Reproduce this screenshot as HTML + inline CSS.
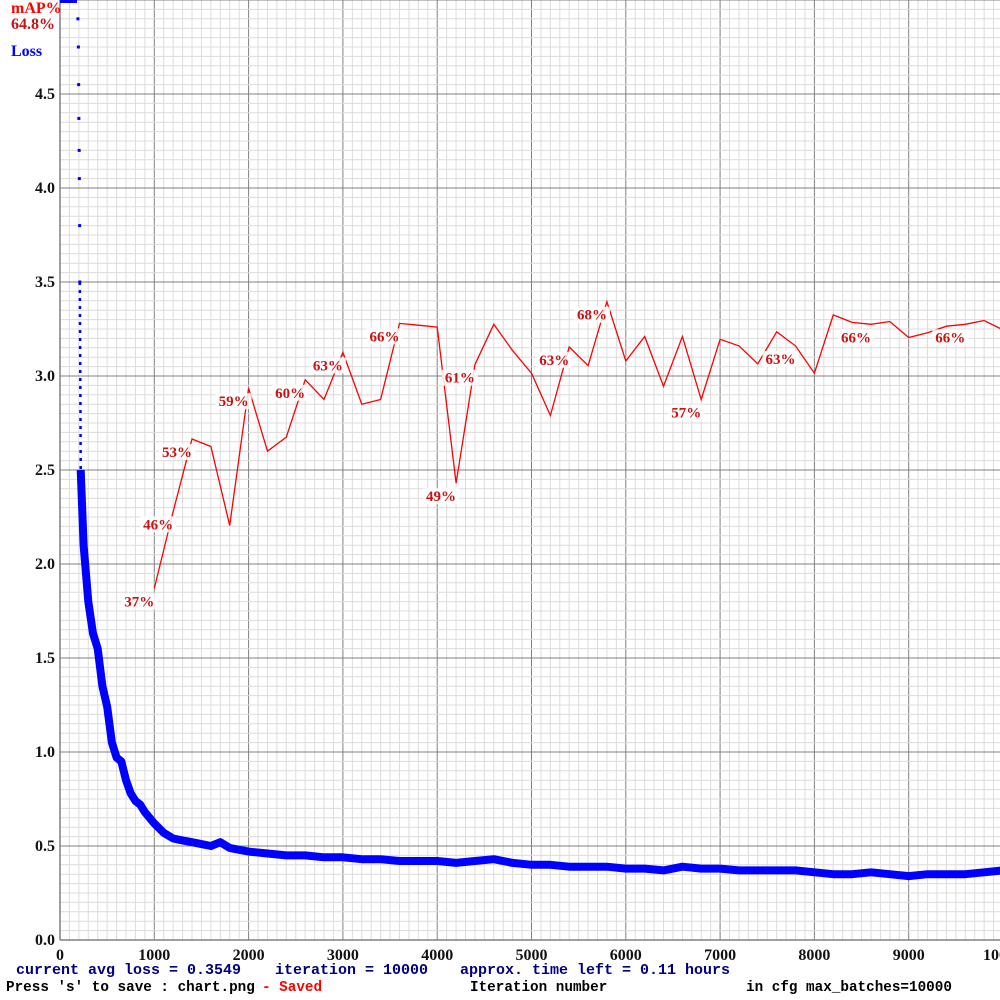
<!DOCTYPE html>
<html><head><meta charset="utf-8">
<style>
html,body{margin:0;padding:0;background:#fff;}
svg{display:block;}
</style></head>
<body>
<svg id="chart" width="1000" height="1000" xmlns="http://www.w3.org/2000/svg"></svg>
<script>
const xTickLabels = ["0","1000","2000","3000","4000","5000","6000","7000","8000","9000","10000"];
const yTickLabels = ["0.0","0.5","1.0","1.5","2.0","2.5","3.0","3.5","4.0","4.5"];
const mapIters = [1000,1200,1400,1600,1800,2000,2200,2400,2600,2800,3000,3200,3400,3600,3800,4000,4200,4400,4600,4800,5000,5200,5400,5600,5800,6000,6200,6400,6600,6800,7000,7200,7400,7600,7800,8000,8200,8400,8600,8800,9000,9200,9400,9600,9800,10000];
const mapVals = [0.374,0.456,0.533,0.525,0.441,0.587,0.520,0.535,0.596,0.575,0.625,0.570,0.575,0.656,0.654,0.652,0.486,0.612,0.655,0.627,0.603,0.558,0.631,0.611,0.679,0.616,0.642,0.589,0.642,0.575,0.639,0.632,0.613,0.647,0.632,0.603,0.665,0.657,0.655,0.658,0.641,0.646,0.653,0.655,0.659,0.649];
const mapLabelIdx = [0,1,2,5,8,10,13,16,17,22,24,29,34,38,43];
const lossIters = [0,100,180,190,195,198,200,203,205,208,210,220,250,300,350,400,450,500,550,600,650,700,750,800,850,900,950,1000,1100,1200,1300,1400,1500,1600,1700,1800,1900,2000,2200,2400,2600,2800,3000,3200,3400,3600,3800,4000,4200,4400,4600,4800,5000,5200,5400,5600,5800,6000,6200,6400,6600,6800,7000,7200,7400,7600,7800,8000,8200,8400,8600,8800,9000,9200,9400,9600,9800,10000];
const lossVals = [8,7,6,4.9,4.75,4.55,4.37,4.2,4.05,3.8,3.5,2.5,2.1,1.8,1.63,1.55,1.35,1.24,1.05,0.97,0.95,0.85,0.78,0.74,0.72,0.68,0.65,0.62,0.57,0.54,0.53,0.52,0.51,0.50,0.52,0.49,0.48,0.47,0.46,0.45,0.45,0.44,0.44,0.43,0.43,0.42,0.42,0.42,0.41,0.42,0.43,0.41,0.40,0.40,0.39,0.39,0.39,0.38,0.38,0.37,0.39,0.38,0.38,0.37,0.37,0.37,0.37,0.36,0.35,0.35,0.36,0.35,0.34,0.35,0.35,0.35,0.36,0.37];

const NS="http://www.w3.org/2000/svg";
const svg=document.getElementById('chart');
const X0=60, XW=943, Y0=940, YS=188, PH=940;
const xs=i=>X0+i/10000*XW;
const ys=l=>Y0-l*YS;
const ym=m=>Y0-m*PH;
function mk(tag,attrs,parent){const e=document.createElementNS(NS,tag);for(const k in attrs)e.setAttribute(k,attrs[k]);(parent||svg).appendChild(e);return e;}

const grid=mk('g',{});


for(let i=0;i<=100;i++){const x=xs(i*100);mk('line',{x1:x,y1:0,x2:x,y2:Y0,stroke:i%10?'#dcdcdc':'#808080','stroke-width':1},grid);}
for(let j=0;j<=100;j++){const y=Y0-j*0.05*YS;if(y<0)break;mk('line',{x1:X0,y1:y,x2:1000,y2:y,stroke:j%10?'#dcdcdc':'#808080','stroke-width':1},grid);}
const ax=mk('line',{x1:X0,y1:0,x2:X0,y2:Y0,stroke:'#808080','stroke-width':1.5});

const bx=mk('line',{x1:X0,y1:Y0,x2:1000,y2:Y0,stroke:'#808080','stroke-width':1.5});


yTickLabels.forEach((t,k)=>{const e=mk('text',{x:55,y:Y0-k*0.5*YS+5,'text-anchor':'end','font-family':'Liberation Serif, serif','font-weight':'bold','font-size':16,fill:'#111'});e.textContent=t;
});
xTickLabels.forEach((t,k)=>{const e=mk('text',{x:xs(k*1000),y:960,'text-anchor':'middle','font-family':'Liberation Serif, serif','font-weight':'bold','font-size':16,fill:'#111'});e.textContent=t;
});

// loss series
const lg=mk('g',{});

const bandStart=lossIters.indexOf(220);
let pts=[];for(let i=bandStart;i<lossIters.length;i++)pts.push(xs(lossIters[i]).toFixed(1)+','+ys(lossVals[i]).toFixed(1));
mk('polyline',{points:pts.join(' '),fill:'none',stroke:'#0000ff','stroke-width':8,'stroke-linejoin':'round'},lg);
for(let i=0;i<bandStart;i++){
  const x=xs(lossIters[i]),y=ys(lossVals[i]);
  if(y<=0){mk('rect',{x:X0,y:0,width:Math.max(0,x-X0),height:3,fill:'#0000ff'},lg);}
  else{mk('rect',{x:x-1.5,y:y-1.5,width:3,height:3,fill:'#0000ff'},lg);}
}
// sparse dots on steep drop between 3.5 and 2.5
for(let i=bandStart-1;i<bandStart;i++){
  const x1=xs(lossIters[i]),y1=ys(lossVals[i]),x2=xs(lossIters[i+1]),y2=ys(lossVals[i+1]);
  mk('line',{x1:x1,y1:y1,x2:x2,y2:y2,stroke:'#0000ff','stroke-width':2.5,'stroke-dasharray':'3 5'},lg);
}

// mAP series
const mg=mk('g',{});

mk('polyline',{points:mapIters.map((it,i)=>xs(it).toFixed(1)+','+ym(mapVals[i]).toFixed(1)).join(' '),fill:'none',stroke:'#ff0000','stroke-width':1.3},mg);
mapLabelIdx.forEach(i=>{
  const x=xs(mapIters[i])-15,y=ym(mapVals[i])+18;
  mk('rect',{x:x-18,y:y-13,width:36,height:16,fill:'#fff',opacity:0.85},mg);
  const t=mk('text',{x:x,y:y,'text-anchor':'middle','font-family':'Liberation Serif, serif','font-weight':'bold','font-size':15,fill:'#cc1111'},mg);
  t.textContent=Math.round(mapVals[i]*100)+'%';
  
});

function txt(s,x,y,fill,name,fam,size){const e=mk('text',{x:x,y:y,'font-family':fam||'Liberation Mono, monospace','font-weight':'bold','font-size':size||15,fill:fill});e.textContent=s;
return e;}
txt('mAP%',11,13,'#ff0000','legend-map-title','Liberation Serif, serif',16);
txt('64.8%',11,29,'#cc1111','legend-map-value','Liberation Serif, serif',16);
txt('Loss',11,56,'#0000ff','legend-loss','Liberation Serif, serif',16);
txt('current avg loss = 0.3549',16,974,'#000080','current-avg-loss');
txt('iteration = 10000',275,974,'#000080','iteration-count');
txt('approx. time left = 0.11 hours',460,974,'#000080','time-left');
txt("Press 's' to save : chart.png",6,991,'#000','save-hint',null,14.3);
txt('- Saved',262,991,'#ff0000','saved-status',null,14.3);
txt('Iteration number',470,991,'#000','x-axis-title',null,14.3);
txt('in cfg max_batches=10000',746,991,'#000','max-batches',null,14.3);
</script>
</body></html>
